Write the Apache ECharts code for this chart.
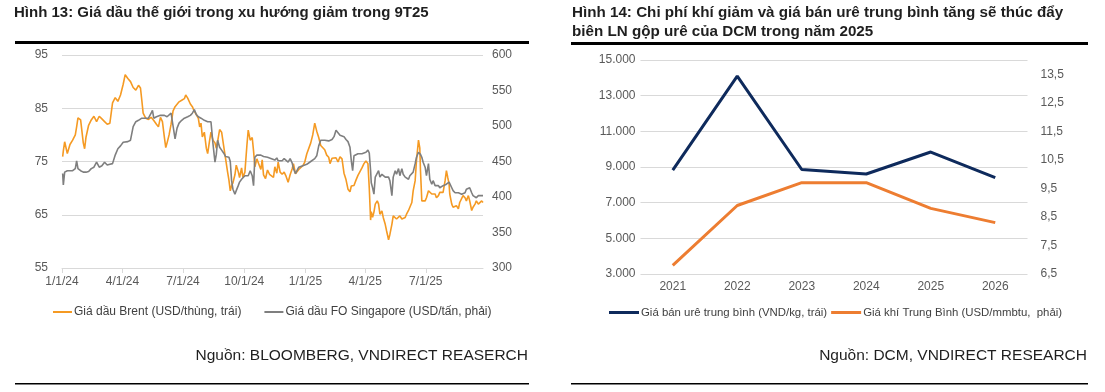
<!DOCTYPE html>
<html><head><meta charset="utf-8">
<script src="https://cdn.jsdelivr.net/npm/echarts@6/dist/echarts.min.js"></script>
<style>html,body{margin:0;padding:0;background:#fff;}#c{width:1105px;height:392px;}</style>
</head><body><div id="c"></div>
<script>
// ---- Figure 13: oil prices ----
const oilDates = [
'2024-01-02','2024-01-03','2024-01-05','2024-01-09','2024-01-13','2024-01-17','2024-01-21','2024-01-23','2024-01-25','2024-01-29',
'2024-02-02','2024-02-04','2024-02-06','2024-02-10','2024-02-14','2024-02-18','2024-02-22','2024-02-26','2024-03-01','2024-03-05',
'2024-03-09','2024-03-13','2024-03-17','2024-03-21','2024-03-25','2024-03-29','2024-04-02','2024-04-05','2024-04-09','2024-04-13',
'2024-04-17','2024-04-21','2024-04-25','2024-04-28','2024-04-30','2024-05-02','2024-05-06','2024-05-10','2024-05-14','2024-05-16',
'2024-05-18','2024-05-22','2024-05-25','2024-05-28','2024-05-31','2024-06-03','2024-06-05','2024-06-07','2024-06-10','2024-06-13',
'2024-06-16','2024-06-19','2024-06-22','2024-06-25','2024-06-29','2024-07-03','2024-07-05','2024-07-08','2024-07-12','2024-07-15',
'2024-07-18','2024-07-21','2024-07-24','2024-07-26','2024-07-28','2024-07-30','2024-08-02','2024-08-05','2024-08-07','2024-08-10',
'2024-08-12','2024-08-15','2024-08-18','2024-08-20','2024-08-22','2024-08-25','2024-08-28','2024-08-31','2024-09-03','2024-09-06',
'2024-09-08','2024-09-10','2024-09-12','2024-09-14','2024-09-17','2024-09-19','2024-09-22','2024-09-24','2024-09-27','2024-09-29',
'2024-10-02','2024-10-05','2024-10-07','2024-10-10','2024-10-13','2024-10-15','2024-10-17','2024-10-20','2024-10-23','2024-10-26',
'2024-10-28','2024-10-30','2024-11-02','2024-11-05','2024-11-08','2024-11-11','2024-11-14','2024-11-16','2024-11-19','2024-11-21',
'2024-11-24','2024-11-27','2024-11-30','2024-12-03','2024-12-06','2024-12-09','2024-12-12','2024-12-14','2024-12-17','2024-12-19',
'2024-12-22','2024-12-25','2024-12-28','2024-12-31','2025-01-03','2025-01-06','2025-01-09','2025-01-12','2025-01-15','2025-01-18',
'2025-01-21','2025-01-24','2025-01-27','2025-01-30','2025-02-02','2025-02-05','2025-02-07','2025-02-10','2025-02-13','2025-02-16',
'2025-02-19','2025-02-22','2025-02-25','2025-02-28','2025-03-03','2025-03-06','2025-03-09','2025-03-11','2025-03-13','2025-03-15',
'2025-03-18','2025-03-21','2025-03-24','2025-03-27','2025-03-30','2025-04-02','2025-04-05','2025-04-07','2025-04-09','2025-04-10',
'2025-04-12','2025-04-14','2025-04-16','2025-04-19','2025-04-21','2025-04-23','2025-04-26','2025-04-28','2025-05-01','2025-05-03',
'2025-05-06','2025-05-08','2025-05-11','2025-05-13','2025-05-16','2025-05-18','2025-05-21','2025-05-23','2025-05-26','2025-05-28',
'2025-05-31','2025-06-02','2025-06-05','2025-06-07','2025-06-10','2025-06-12','2025-06-15','2025-06-17','2025-06-20','2025-06-22',
'2025-06-23','2025-06-25','2025-06-27','2025-06-30','2025-07-02','2025-07-05','2025-07-07','2025-07-10','2025-07-12','2025-07-15',
'2025-07-17','2025-07-20','2025-07-22','2025-07-25','2025-07-27','2025-07-30','2025-08-01','2025-08-03','2025-08-05','2025-08-06',
'2025-08-09','2025-08-11','2025-08-14','2025-08-16','2025-08-19','2025-08-21','2025-08-24','2025-08-26','2025-08-29','2025-08-31',
'2025-09-03','2025-09-05','2025-09-08','2025-09-10','2025-09-13','2025-09-15','2025-09-18','2025-09-20','2025-09-23','2025-09-25'
];
const brentPrices = [
75.9,77.0,78.7,76.5,78.2,79.0,80.0,81.5,83.2,82.8,
78.5,77.4,79.5,81.8,82.8,83.5,82.5,83.5,83.0,82.5,
82.0,82.2,86.0,87.0,86.3,87.5,89.5,91.3,90.6,90.0,
88.9,88.4,89.3,88.8,86.5,84.1,83.1,82.9,83.3,83.0,
82.7,82.0,81.5,83.3,82.5,79.5,77.6,78.5,80.0,82.0,
84.5,85.3,85.6,86.2,86.5,86.8,87.5,86.9,85.8,85.3,
84.4,83.8,83.1,81.5,82.2,79.6,80.5,77.5,76.5,79.0,
80.5,79.0,78.5,77.5,78.8,81.0,80.5,78.0,75.5,73.0,
71.5,69.5,70.5,71.0,72.5,74.3,73.1,72.0,73.8,72.0,
73.0,78.0,80.9,79.0,79.5,77.0,74.0,75.5,74.5,73.5,
75.3,72.5,71.8,73.4,72.6,72.3,72.0,74.0,72.8,74.9,
73.0,72.6,73.0,72.2,71.1,72.5,73.6,74.6,72.7,72.4,
73.5,73.5,74.2,74.9,76.4,76.5,78.5,80.0,82.2,80.7,
79.5,78.0,78.0,77.2,76.2,75.8,74.6,75.6,75.5,75.7,
74.9,75.9,75.5,72.8,71.6,69.8,69.3,70.4,70.2,70.5,
71.5,72.4,73.1,73.8,74.6,75.1,74.6,70.0,64.0,65.6,
64.5,65.5,67.0,67.6,67.0,65.1,65.7,64.5,63.2,62.0,
60.3,61.3,63.2,64.8,65.1,64.2,64.5,64.8,64.2,63.9,
64.5,65.1,65.8,66.4,67.3,69.5,71.4,75.2,79.0,77.5,
73.3,67.6,67.3,67.6,68.2,69.5,69.2,68.9,68.6,68.9,
68.2,68.6,69.2,68.9,69.2,71.4,73.3,72.0,70.8,68.9,
67.0,66.4,66.1,66.7,66.1,67.3,67.6,68.6,68.2,67.6,
68.6,67.6,65.8,66.4,67.0,67.6,67.0,66.7,67.6,67.3
];
const foPrices = [
433,417,435,437,437,437,440,451,440,437,
435,435,435,436,440,442,449,442,444,449,
445,446,447,459,468,472,477,478,478,480,
499,506,508,510,511,511,511,511,518,522,
511,513,514,515,515,515,515,513,511,518,
500,482,497,504,508,511,511,513,515,518,
523,516,513,511,511,510,508,507,506,508,
506,475,449,460,480,470,466,462,457,458,
456,450,423,411,404,409,416,421,425,427,
430,428,430,437,430,416,456,459,457,459,
458,457,456,456,455,454,455,452,455,451,
453,451,454,452,449,454,448,440,433,432,
442,443,444,444,446,448,450,451,454,458,
472,480,480,480,479,479,480,481,485,494,
492,487,487,485,481,478,470,451,437,458,
459,461,461,461,461,463,466,462,437,420,
413,404,428,430,437,428,432,430,428,430,
428,423,402,428,437,432,440,430,440,432,
428,430,425,430,430,435,447,456,463,463,
460,456,449,442,430,447,425,418,423,416,
418,416,413,413,416,416,418,420,421,421,
413,409,406,404,406,406,404,406,406,411,
411,413,406,402,404,399,402,404,402,402
];
const oilTickDates = ['2024-01-01','2024-04-01','2024-07-01','2024-10-01','2025-01-01','2025-04-01','2025-07-01'];
const oilTickLabels = ['1/1/24','4/1/24','7/1/24','10/1/24','1/1/25','4/1/25','7/1/25'];
const oilStart = '2024-01-01';
const oilEnd = '2025-09-25';

// ---- Figure 14: urea / gas ----
const ureaYears = ['2021','2022','2023','2024','2025','2026'];
const ureaPrice = [8830, 14100, 8860, 8610, 9840, 8400];
const gasPrice = [6.8, 8.9, 9.7, 9.7, 8.8, 8.3];

const brentName = 'Giá dầu Brent (USD/thùng, trái)';
const foName = 'Giá dầu FO Singapore (USD/tấn, phải)';
const ureaName = 'Giá bán urê trung bình (VND/kg, trái)';
const gasName = 'Giá khí Trung Bình (USD/mmbtu,  phải)';

const FF = '"Liberation Sans", Arial, sans-serif';
const ts = s => Date.parse(s + 'T00:00:00Z');
const tickTs = oilTickDates.map(ts);

const chart = echarts.init(document.getElementById('c'), null, {renderer: 'canvas'});
const axisText = {color: '#595959', fontSize: 12, fontFamily: FF};
const gridLine = {show: true, lineStyle: {color: '#D9D9D9', width: 1}};

function txt(text, x, y, font, align, fill) {
  return {type: 'text', x: x, y: y, silent: true,
    style: {text: text, font: font, fill: fill || '#1F1F1F', textAlign: align || 'left', textVerticalAlign: 'middle', align: align || 'left', verticalAlign: 'middle'}};
}
function bar(x, y, w, h) {
  return {type: 'rect', shape: {x: x, y: y, width: w, height: h}, style: {fill: '#000'}, silent: true};
}

chart.setOption({
  animation: false,
  backgroundColor: '#fff',
  grid: [
    {left: 62, top: 55, width: 421, height: 213},
    {left: 640.5, top: 60, width: 387, height: 214}
  ],
  xAxis: [
    {type: 'value', gridIndex: 0, min: ts(oilStart), max: ts(oilEnd),
      axisLine: {show: true, lineStyle: {color: '#D9D9D9'}},
      axisTick: {show: true, customValues: tickTs, length: 5, lineStyle: {color: '#D9D9D9'}},
      axisLabel: Object.assign({customValues: tickTs, margin: 8, hideOverlap: false,
        formatter: function (v) { const i = tickTs.indexOf(v); return i >= 0 ? oilTickLabels[i] : ''; }}, axisText),
      splitLine: {show: false}},
    {type: 'category', gridIndex: 1, data: ureaYears, boundaryGap: true,
      axisLine: {show: false}, axisTick: {show: false},
      axisLabel: Object.assign({margin: 7}, axisText), splitLine: {show: false}}
  ],
  yAxis: [
    {type: 'value', gridIndex: 0, min: 55, max: 95, interval: 10, position: 'left',
      axisLine: {show: false}, axisTick: {show: false},
      axisLabel: Object.assign({margin: 14}, axisText), splitLine: gridLine},
    {type: 'value', gridIndex: 0, min: 300, max: 600, interval: 50, position: 'right',
      axisLine: {show: false}, axisTick: {show: false},
      axisLabel: Object.assign({margin: 9}, axisText), splitLine: {show: false}},
    {type: 'value', gridIndex: 1, min: 3000, max: 15000, interval: 2000, position: 'left',
      axisLine: {show: false}, axisTick: {show: false},
      axisLabel: Object.assign({margin: 5, formatter: v => String(v).replace(/\B(?=(\d{3})+(?!\d))/g, '.')}, axisText),
      splitLine: gridLine},
    {type: 'value', gridIndex: 1, min: 6.5, max: 14, interval: 1, position: 'right',
      axisLine: {show: false}, axisTick: {show: false},
      axisLabel: Object.assign({margin: 13, showMaxLabel: false, formatter: v => (Math.abs(v - 14) < 1e-6 ? '' : v.toFixed(1).replace('.', ','))}, axisText),
      splitLine: {show: false}}
  ],
  legend: [
    {data: [brentName, foName], left: 48, top: 301, icon: 'rect', itemWidth: 19, itemHeight: 2, itemGap: 23,
      textStyle: {color: '#404040', fontSize: 12, fontFamily: FF, padding: [0, 0, 0, -3]}, selectedMode: false},
    {data: [ureaName, gasName], left: 604, top: 302, icon: 'rect', itemWidth: 30, itemHeight: 3, itemGap: 4,
      textStyle: {color: '#404040', fontSize: 11.4, fontFamily: FF, padding: [0, 0, 0, -3]}, selectedMode: false}
  ],
  series: [
    {name: brentName, type: 'line', xAxisIndex: 0, yAxisIndex: 0, showSymbol: false, color: '#F59A23',
      lineStyle: {width: 1.6, color: '#F59A23'}, data: oilDates.map((d, i) => [ts(d), brentPrices[i]])},
    {name: foName, type: 'line', xAxisIndex: 0, yAxisIndex: 1, showSymbol: false, color: '#7F7F7F',
      lineStyle: {width: 1.6, color: '#7F7F7F'}, data: oilDates.map((d, i) => [ts(d), foPrices[i]])},
    {name: ureaName, type: 'line', xAxisIndex: 1, yAxisIndex: 2, showSymbol: false, color: '#0E2A5C',
      lineStyle: {width: 3, color: '#0E2A5C'}, data: ureaPrice},
    {name: gasName, type: 'line', xAxisIndex: 1, yAxisIndex: 3, showSymbol: false, color: '#ED7D31',
      lineStyle: {width: 3, color: '#ED7D31'}, data: gasPrice}
  ],
  graphic: [
    txt('Hình 13: Giá dầu thế giới trong xu hướng giảm trong 9T25', 14, 13, 'bold 15px ' + FF),
    bar(15, 41, 514, 3),
    txt('Nguồn: BLOOMBERG, VNDIRECT REASERCH', 528, 356, '15.5px ' + FF, 'right'),
    bar(15, 383, 514, 1.5),
    txt('Hình 14: Chi phí khí giảm và giá bán urê trung bình tăng sẽ thúc đẩy', 572, 13, 'bold 15.2px ' + FF),
    txt('biên LN gộp urê của DCM trong năm 2025', 572, 32, 'bold 15.2px ' + FF),
    bar(571, 42, 517, 3),
    txt('Nguồn: DCM, VNDIRECT RESEARCH', 1087, 356, '15.5px ' + FF, 'right'),
    bar(571, 383, 517, 1.5)
  ]
});
</script>
</body></html>
